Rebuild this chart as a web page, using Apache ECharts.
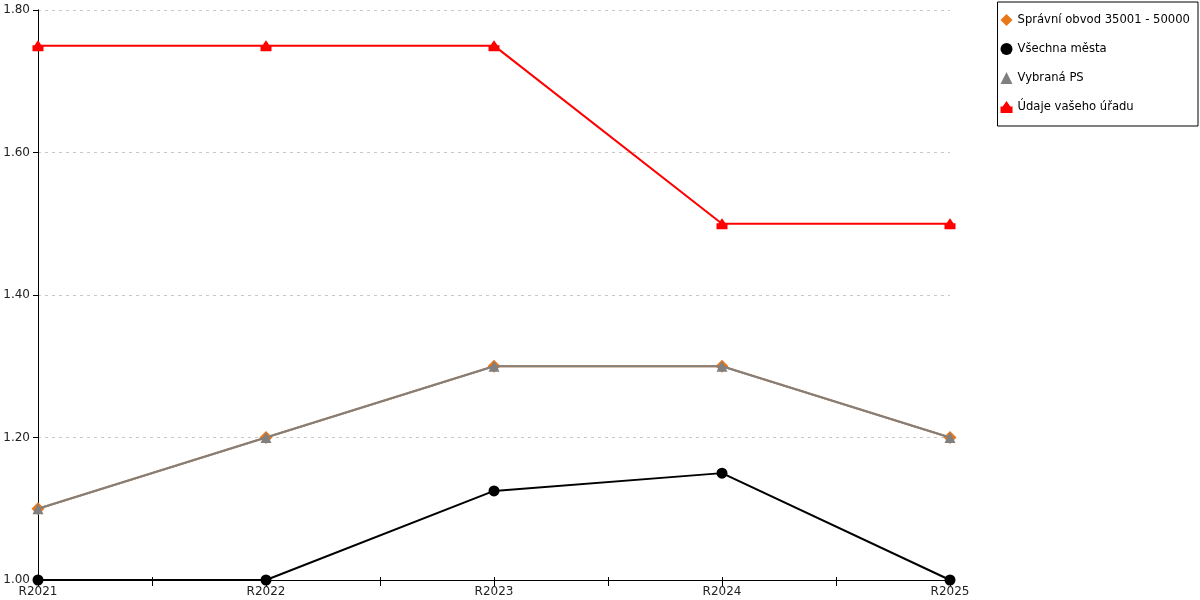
<!DOCTYPE html>
<html lang="cs">

<head>
	<meta charset="UTF-8">
	<script src="https://cdn.jsdelivr.net/npm/echarts@6/dist/echarts.min.js"></script>
	<title>Srovnání ukazatele R2021 - R2025</title>
</head>

<body style="margin:0">
	<div id="main" style="width: 1200px;height:600px;"></div>

	<script>
		// data
		var years = ['R2021', 'R2022', 'R2023', 'R2024', 'R2025'];
		var spravniObvod = [1.10, 1.20, 1.30, 1.30, 1.20];
		var vsechnaMesta = [1.00, 1.00, 1.125, 1.15, 1.00];
		var vybranaPS = [1.10, 1.20, 1.30, 1.30, 1.20];
		var udajeUradu = [1.75, 1.75, 1.75, 1.50, 1.50];
		var yTicks = [1.00, 1.20, 1.40, 1.60, 1.80];

		var houseIcon = 'path://M0,5L2,5L5.5,0L9,5L11,5L11,11L0,11Z';

		// x is a value axis over year index, so half ticks can be drawn between years
		function pairs(arr) {
			return arr.map(function (v, i) { return [i, v]; });
		}

		function makeSeries(name, values, color, symbol, size, z) {
			return {
				name: name,
				type: 'line',
				data: pairs(values),
				symbol: symbol,
				symbolSize: size,
				showSymbol: true,
				z: z,
				lineStyle: { color: color, width: 2 },
				itemStyle: { color: color, borderWidth: 0 },
				emphasis: { disabled: true },
				animation: false
			};
		}

		var chart = echarts.init(document.getElementById('main'));

		var xCommon = {
			type: 'value',
			position: 'bottom',
			min: 0,
			max: years.length - 1,
			interval: 1,
			axisLine: { lineStyle: { color: '#000', width: 1 } },
			splitLine: { show: false },
			minorSplitLine: { show: false }
		};

		var option = {
			backgroundColor: '#fff',
			textStyle: { fontFamily: 'DejaVu Sans' },
			grid: { left: 38, right: 250, top: 10, bottom: 20 },
			legend: {
				orient: 'vertical',
				right: 2,
				top: 2,
				itemWidth: 12,
				itemHeight: 12,
				itemGap: 17,
				padding: [12, 8, 13, 3],
				borderColor: '#000',
				borderWidth: 1,
				textStyle: { fontSize: 11.6, color: '#000', fontFamily: 'DejaVu Sans' },
				data: [
					{ name: 'Správní obvod 35001 - 50000', icon: 'diamond', itemStyle: { color: '#e8771a' } },
					{ name: 'Všechna města', icon: 'circle', itemStyle: { color: '#000' } },
					{ name: 'Vybraná PS', icon: 'triangle', itemStyle: { color: '#808080' } },
					{ name: 'Údaje vašeho úřadu', icon: houseIcon, itemStyle: { color: '#ff0000' } }
				]
			},
			xAxis: [
				Object.assign({}, xCommon, {
					axisTick: { show: true, length: 6, lineStyle: { color: '#000' } },
					minorTick: { show: true, splitNumber: 2, length: 6, lineStyle: { color: '#000' } },
					axisLabel: {
						margin: 6,
						fontSize: 12,
						color: '#222',
						formatter: function (v) { return years[v] || ''; }
					}
				}),
				// second copy only for the part of the ticks inside the plot
				Object.assign({}, xCommon, {
					axisTick: { show: true, inside: true, length: 3, lineStyle: { color: '#000' } },
					minorTick: { show: true, splitNumber: 2, length: 3, lineStyle: { color: '#000' } },
					axisLabel: { show: false }
				})
			],
			yAxis: [
				{
					type: 'value',
					min: yTicks[0],
					max: yTicks[yTicks.length - 1],
					interval: 0.2,
					axisLine: { show: true, lineStyle: { color: '#000' } },
					axisTick: { show: true, length: 5, lineStyle: { color: '#000' } },
					axisLabel: {
						margin: 8,
						fontSize: 12,
						color: '#222',
						formatter: function (v) { return v.toFixed(2); }
					},
					splitLine: { show: true, lineStyle: { color: '#c8c8c8', type: [3, 4] } }
				},
				{
					type: 'value',
					position: 'right',
					min: yTicks[0],
					max: yTicks[yTicks.length - 1],
					axisLine: { show: true, lineStyle: { color: '#000' } },
					axisTick: { show: false },
					axisLabel: { show: false },
					splitLine: { show: false }
				}
			],
			series: [
				makeSeries('Správní obvod 35001 - 50000', spravniObvod, '#e8771a', 'diamond', 13, 2),
				makeSeries('Vybraná PS', vybranaPS, '#808080', 'triangle', 11, 3),
				makeSeries('Všechna města', vsechnaMesta, '#000', 'circle', 11, 4),
				makeSeries('Údaje vašeho úřadu', udajeUradu, '#ff0000', houseIcon, 11, 5)
			]
		};

		chart.setOption(option);
	</script>
</body>

</html>
